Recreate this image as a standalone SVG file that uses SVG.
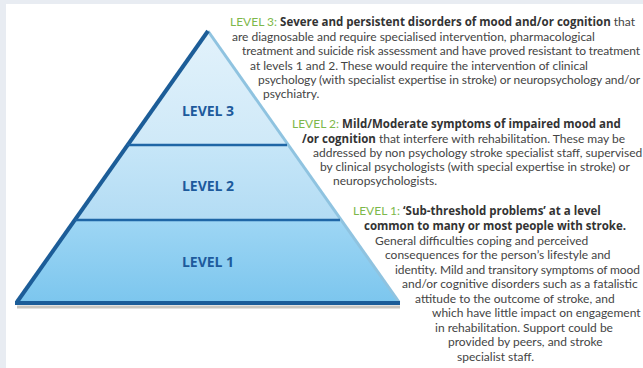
<svg xmlns="http://www.w3.org/2000/svg" width="643" height="368" viewBox="0 0 643 368">
<defs>
<linearGradient id="g3" x1="0" y1="0" x2="0" y2="1"><stop offset="0" stop-color="#e2f2fb"/><stop offset="1" stop-color="#cfe9f8"/></linearGradient>
<linearGradient id="g2" x1="0" y1="0" x2="0" y2="1"><stop offset="0" stop-color="#c6e6f8"/><stop offset="1" stop-color="#b3dcf4"/></linearGradient>
<linearGradient id="g1" x1="0" y1="0" x2="0" y2="1"><stop offset="0" stop-color="#9ed6f4"/><stop offset="1" stop-color="#7cc6ee"/></linearGradient>
<style>
.lvl{font-family:"Open Sans","Liberation Sans",sans-serif;font-weight:bold;font-size:14px;fill:#1d5a9c;text-anchor:middle}
.t{font-family:Lato,"Liberation Sans",sans-serif;font-size:12px;fill:#444}
.g{fill:#7db84a}
.b{font-family:"Open Sans","Liberation Sans",sans-serif;font-size:11.5px;font-weight:bold;fill:#333}
</style>
</defs>
<rect x="0" y="0" width="643" height="368" fill="#e8ecf2"/>
<rect x="6" y="4" width="637" height="364" fill="#ffffff"/>
<g id="pyramid">
<polygon points="208,31 127,145 289,145" fill="url(#g3)"/>
<polygon points="127,145 289,145 342,220 75,220" fill="url(#g2)"/>
<polygon points="75,220 342,220 399,302 17,302" fill="url(#g1)"/>
<line x1="17" y1="307" x2="400" y2="307" stroke="#c9c6c0" stroke-width="3"/>
<line x1="208" y1="31" x2="399" y2="302" stroke="#8fc3e0" stroke-width="3"/>
<line x1="208" y1="31" x2="17" y2="302" stroke="#1c5d98" stroke-width="4"/>
<line x1="127" y1="145" x2="287" y2="145" stroke="#1f66a6" stroke-width="2.5"/>
<line x1="75" y1="220" x2="340" y2="220" stroke="#1f66a6" stroke-width="2.5"/>
<line x1="15" y1="303" x2="400" y2="303" stroke="#1c5d98" stroke-width="4"/>
</g>
<g id="level3"><text class="lvl" x="208" y="116">LEVEL 3</text></g>
<g id="level2"><text class="lvl" x="208" y="191">LEVEL 2</text></g>
<g id="level1"><text class="lvl" x="208" y="267">LEVEL 1</text></g>
<g id="desc3" class="t">
<text x="230" y="26"><tspan class="g">LEVEL 3: </tspan><tspan class="b">Severe and persistent disorders of mood and/or cognition</tspan> that</text>
<text x="232" y="41">are diagnosable and require specialised intervention, pharmacological</text>
<text x="242" y="55" textLength="398">treatment and suicide risk assessment and have proved resistant to treatment</text>
<text x="250" y="70">at levels 1 and 2. These would require the intervention of clinical</text>
<text x="258" y="84" textLength="382">psychology (with specialist expertise in stroke) or neuropsychology and/or</text>
<text x="263" y="98">psychiatry.</text>
</g>
<g id="desc2" class="t">
<text x="292" y="128"><tspan class="g">LEVEL 2: </tspan><tspan class="b">Mild/Moderate symptoms of impaired mood and</tspan></text>
<text x="302" y="143"><tspan class="b">/or cognition</tspan> that interfere with rehabilitation. These may be</text>
<text x="313" y="157">addressed by non psychology stroke specialist staff, supervised</text>
<text x="320" y="171">by clinical psychologists (with special expertise in stroke) or</text>
<text x="333" y="185">neuropsychologists.</text>
</g>
<g id="desc1" class="t">
<text x="353" y="215"><tspan class="g">LEVEL 1: </tspan><tspan class="b">‘Sub-threshold problems’ at a level</tspan></text>
<text x="364" y="230"><tspan class="b">common to many or most people with stroke.</tspan></text>
<text x="375" y="245">General difficulties coping and perceived</text>
<text x="385" y="259">consequences for the person’s lifestyle and</text>
<text x="395" y="274" textLength="245">identity. Mild and transitory symptoms of mood</text>
<text x="402" y="288">and/or cognitive disorders such as a fatalistic</text>
<text x="415" y="303">attitude to the outcome of stroke, and</text>
<text x="432" y="317">which have little impact on engagement</text>
<text x="435" y="332">in rehabilitation. Support could be</text>
<text x="448" y="346">provided by peers, and stroke</text>
<text x="457" y="361">specialist staff.</text>
</g>
</svg>
